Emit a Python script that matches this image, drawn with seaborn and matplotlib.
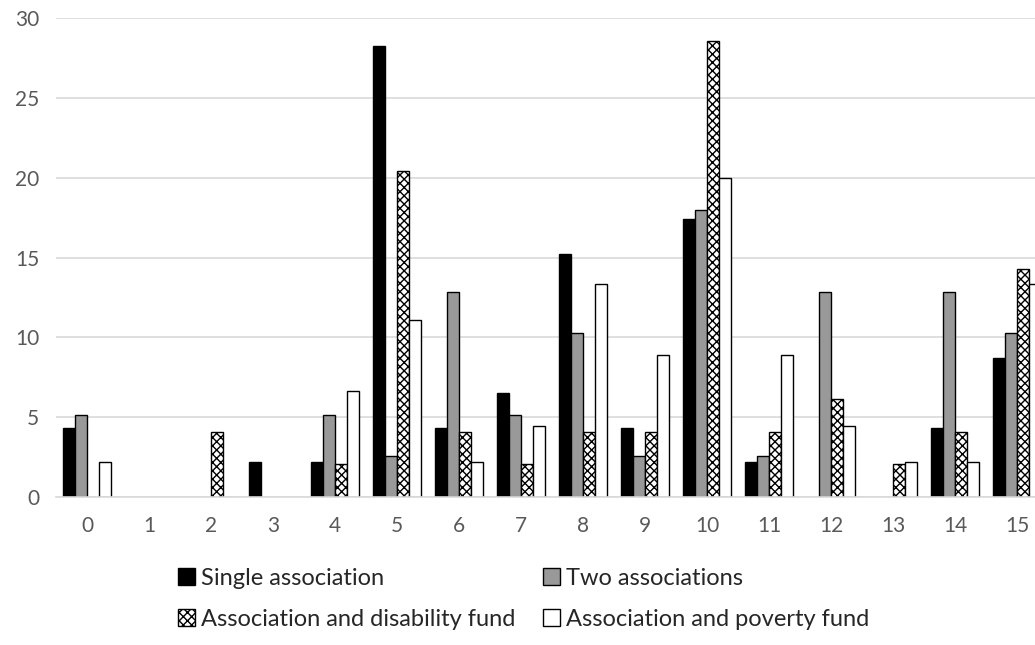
import pandas as pd
import matplotlib
matplotlib.use("Agg")
import matplotlib.pyplot as plt
from matplotlib.patches import Patch
import seaborn as sns

# share of cases per number of ... (percent)
categories = list(range(16))
single_assoc = [4.35, 0, 0, 2.17, 2.17, 28.26, 4.35, 6.52, 15.22, 4.35, 17.39, 2.17, 0, 0, 4.35, 8.70]
two_assoc = [5.13, 0, 0, 0, 5.13, 2.56, 12.82, 5.13, 10.26, 2.56, 17.95, 2.56, 12.82, 0, 12.82, 10.26]
assoc_disability = [0, 0, 4.08, 0, 2.04, 20.41, 4.08, 2.04, 4.08, 4.08, 28.57, 4.08, 6.12, 2.04, 4.08, 14.29]
assoc_poverty = [2.22, 0, 0, 0, 6.67, 11.11, 2.22, 4.44, 13.33, 8.89, 20.00, 8.89, 4.44, 2.22, 2.22, 13.33]
series_names = ["Single association", "Two associations",
                "Association and disability fund", "Association and poverty fund"]

rows = []
for name, vals in zip(series_names, [single_assoc, two_assoc, assoc_disability, assoc_poverty]):
    for c, v in zip(categories, vals):
        rows.append({"cat": str(c), "series": name, "value": v})
df = pd.DataFrame(rows)

sns.set_style("white")
plt.rcParams["font.family"] = ["Lato", "DejaVu Sans"]
plt.rcParams["hatch.linewidth"] = 1.0

fig = plt.figure(figsize=(10.35, 6.45), dpi=100)
# the original chart is cut off on the right, so the axes run past the figure edge
ax = fig.add_axes([56 / 1035, 1 - 497 / 645, 992 / 1035, 479 / 645])

sns.barplot(data=df, x="cat", y="value", hue="series", hue_order=series_names,
            order=[str(c) for c in categories], width=0.77, gap=0,
            errorbar=None, legend=False, ax=ax)

styles = [
    dict(facecolor="black", hatch=None),
    dict(facecolor="#999999", hatch=None),
    dict(facecolor="white", hatch="xxxx"),
    dict(facecolor="white", hatch=None),
]
for cont, st in zip(ax.containers, styles):
    for bar in cont:
        bar.set_facecolor(st["facecolor"])
        bar.set_edgecolor("black")
        bar.set_linewidth(1.0)
        if st["hatch"]:
            bar.set_hatch(st["hatch"])
        if bar.get_height() == 0:
            bar.set_visible(False)

ax.set_ylim(0, 30)
ax.set_yticks(range(0, 31, 5))
ax.yaxis.grid(True, color="#d9d9d9", linewidth=1.2)
ax.set_axisbelow(True)
for s in ["top", "right", "left"]:
    ax.spines[s].set_visible(False)
ax.spines["bottom"].set_color("#d9d9d9")
ax.spines["bottom"].set_linewidth(1.2)
ax.set_xlabel("")
ax.set_ylabel("")
ax.tick_params(axis="both", length=0, labelsize=15, labelcolor="#595959")
ax.tick_params(axis="x", pad=14)
ax.tick_params(axis="y", pad=12)

handles = [Patch(facecolor=st["facecolor"], edgecolor="black", hatch=st["hatch"], linewidth=1.0)
           for st in styles]
leg_kw = dict(loc="upper left", ncol=1, frameon=False, fontsize=17,
              handlelength=0.72, handleheight=0.72, handletextpad=0.25,
              labelspacing=0.85, borderaxespad=0, borderpad=0)
# two legend columns placed separately, as in the original
fig.legend([handles[0], handles[2]], [series_names[0], series_names[2]],
           bbox_to_anchor=(178 / 1035, 1 - 568 / 645), **leg_kw)
fig.legend([handles[1], handles[3]], [series_names[1], series_names[3]],
           bbox_to_anchor=(543 / 1035, 1 - 568 / 645), **leg_kw)

fig.savefig("out.png", dpi=100)
